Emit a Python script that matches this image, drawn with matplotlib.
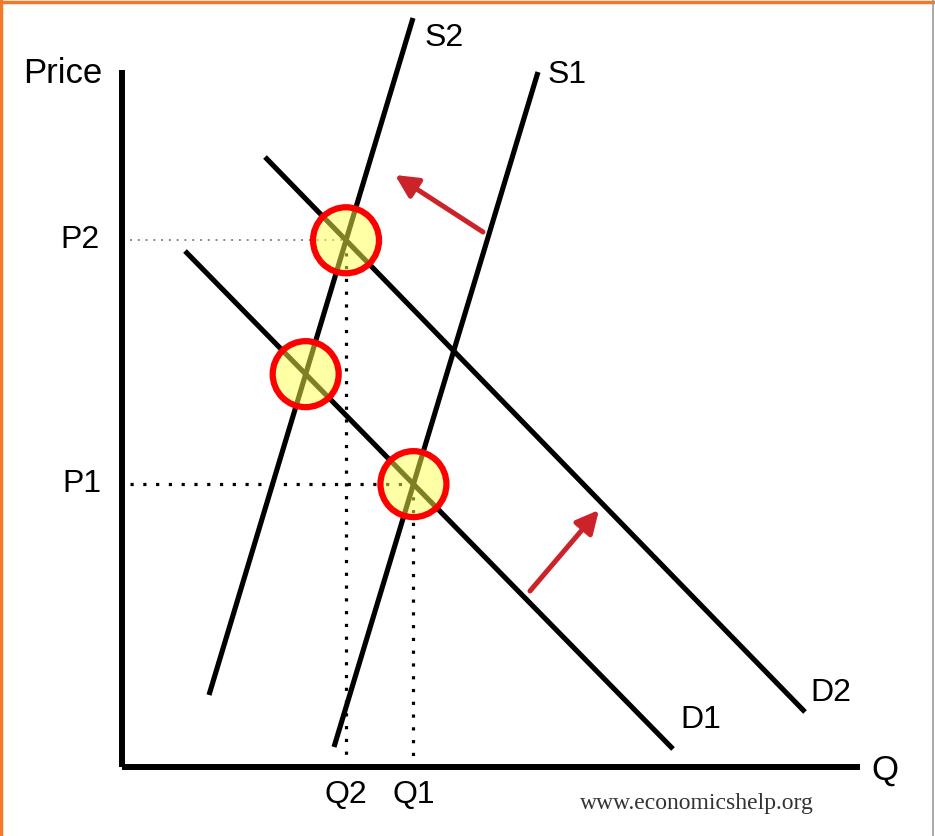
import numpy as np
import matplotlib
matplotlib.use("Agg")
import matplotlib.pyplot as plt
from matplotlib.patches import Circle
from matplotlib.lines import Line2D

# curve end points (quantity, price)
s1_q = [21.2, 41.6]
s1_p = [2.0, 69.5]
s2_q = [8.7, 29.1]
s2_p = [7.2, 74.9]
d1_q = [6.3, 55.1]
d1_p = [51.6, 1.8]
d2_q = [14.3, 68.3]
d2_p = [61.0, 5.5]

# shift arrows (from, to)
supply_arrow = [(36.1, 53.5), (27.3, 59.2)]
demand_arrow = [(40.8, 17.6), (47.7, 25.7)]

axis_top = 69.7
axis_right = 73.8


def meet(q_a, p_a, q_b, p_b):
    # intersection of two straight lines given by their end points
    m_a = (p_a[1] - p_a[0]) / (q_a[1] - q_a[0])
    m_b = (p_b[1] - p_b[0]) / (q_b[1] - q_b[0])
    q = (p_b[0] - p_a[0] + m_a * q_a[0] - m_b * q_b[0]) / (m_a - m_b)
    return q, p_a[0] + m_a * (q - q_a[0])


e1 = meet(s1_q, s1_p, d1_q, d1_p)
e2 = meet(s2_q, s2_p, d2_q, d2_p)
e3 = meet(s2_q, s2_p, d1_q, d1_p)

fig = plt.figure(figsize=(9.35, 8.36), dpi=100)
ax = fig.add_axes([0, 0, 1, 1])
ax.set_xlim(-12.2, 81.3)
ax.set_ylim(-6.9, 76.7)
ax.axis("off")

font = "Liberation Sans"
lw = 3.7

# axes
ax.plot([0, 0], [0, axis_top], color="black", lw=4.3, solid_capstyle="butt")
ax.plot([0, axis_right], [0, 0], color="black", lw=4.3, solid_capstyle="butt")

# dotted guides
ax.plot([0.8, e2[0]], [e2[1], e2[1]], color="#888888", lw=1.4, ls=(0, (1, 3)))
ax.plot([0.8, e1[0]], [e1[1], e1[1]], color="black", lw=2.3, ls=(0, (1, 3)))
ax.plot([e2[0], e2[0]], [e2[1], 0.3], color="black", lw=2.3, ls=(0, (1, 3)))
ax.plot([e1[0], e1[0]], [e1[1], 0.3], color="black", lw=2.3, ls=(0, (1, 3)))

# supply and demand curves
for q, p in [(s1_q, s1_p), (s2_q, s2_p), (d1_q, d1_p), (d2_q, d2_p)]:
    ax.plot(q, p, color="black", lw=lw, solid_capstyle="butt")

# equilibrium markers
for e in [e1, e2, e3]:
    ax.add_patch(Circle(e, 3.3, facecolor=(1, 1, 0.3, 0.5), edgecolor="#ff0000",
                        lw=4.5, zorder=5))

# shift arrows
for a in [supply_arrow, demand_arrow]:
    ax.annotate("", xy=a[1], xytext=a[0],
                arrowprops=dict(arrowstyle="-|>", color="#cc2229", lw=3.6,
                                mutation_scale=34, shrinkA=0, shrinkB=0))

# labels
ax.text(-5.9, 69.4, "Price", fontsize=25, family=font, ha="center", va="center")
ax.text(76.3, -0.3, "Q", fontsize=25, family=font, ha="center", va="center")
ax.text(30.3, 72.9, "S2", fontsize=23, family=font, ha="left", va="center")
ax.text(42.6, 69.2, "S1", fontsize=23, family=font, ha="left", va="center")
ax.text(55.8, 4.7, "D1", fontsize=23, family=font, ha="left", va="center")
ax.text(68.8, 7.4, "D2", fontsize=23, family=font, ha="left", va="center")
ax.text(-2.2, e2[1], "P2", fontsize=23, family=font, ha="right", va="center")
ax.text(-2.0, e1[1], "P1", fontsize=23, family=font, ha="right", va="center")
ax.text(e2[0], -2.8, "Q2", fontsize=23, family=font, ha="center", va="center")
ax.text(e1[0], -2.8, "Q1", fontsize=23, family=font, ha="center", va="center")
ax.text(57.5, -3.6, "www.economicshelp.org", fontsize=17, family="Liberation Serif",
        color="#333333", ha="center", va="center")

# frame edges
fig.add_artist(Line2D([0, 1], [0.998, 0.998], color="#f07a2a", lw=2.5))
fig.add_artist(Line2D([0.0015, 0.0015], [0, 1], color="#f07a2a", lw=2.5))
fig.add_artist(Line2D([0.9975, 0.9975], [0, 1], color="#999999", lw=1.2))

fig.savefig("out.png", dpi=100)
